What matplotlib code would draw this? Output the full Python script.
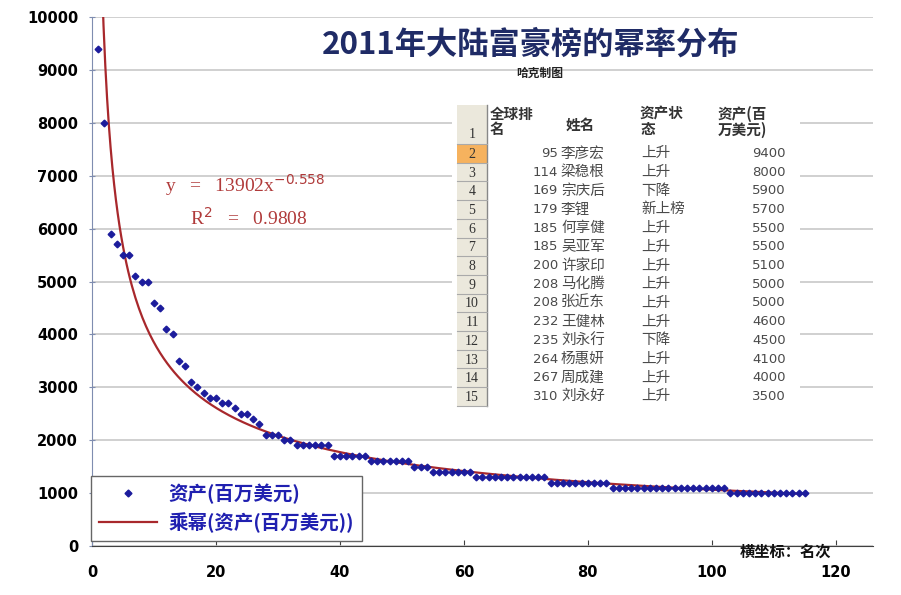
import numpy as np
import matplotlib.pyplot as plt
from matplotlib.patches import Rectangle
from matplotlib.lines import Line2D

plt.rcParams['font.family'] = ['Noto Sans CJK SC', 'DejaVu Sans']

# ==============================
# DATA
# ==============================
assets = [9400, 8000, 5900, 5700, 5500, 5500, 5100, 5000, 5000, 4600,
          4500, 4100, 4000, 3500, 3400, 3100, 3000, 2900, 2800, 2800,
          2700, 2700, 2600, 2500, 2500, 2400, 2300, 2100, 2100, 2100,
          2000, 2000, 1900, 1900, 1900, 1900, 1900, 1900, 1700, 1700,
          1700, 1700, 1700, 1700, 1600, 1600, 1600, 1600, 1600, 1600,
          1600, 1500, 1500, 1500, 1400, 1400, 1400, 1400, 1400, 1400,
          1400, 1300, 1300, 1300, 1300, 1300, 1300, 1300, 1300, 1300,
          1300, 1300, 1300, 1200, 1200, 1200, 1200, 1200, 1200, 1200,
          1200, 1200, 1200, 1100, 1100, 1100, 1100, 1100, 1100, 1100,
          1100, 1100, 1100, 1100, 1100, 1100, 1100, 1100, 1100, 1100,
          1100, 1100, 1000, 1000, 1000, 1000, 1000, 1000, 1000, 1000,
          1000, 1000, 1000, 1000, 1000]
rank = np.arange(1, len(assets) + 1)

# trendline from the printed equation
fit_a = 13902
fit_b = -0.558
fit_r2 = 0.9808

table_rank = [95, 114, 169, 179, 185, 185, 200, 208, 208, 232, 235, 264, 267, 310]
table_name = ['李彦宏', '梁稳根', '宗庆后', '李锂', '何享健', '吴亚军', '许家印',
              '马化腾', '张近东', '王健林', '刘永行', '杨惠妍', '周成建', '刘永好']
table_status = ['上升', '上升', '下降', '新上榜', '上升', '上升', '上升',
                '上升', '上升', '上升', '下降', '上升', '上升', '上升']
table_assets = [9400, 8000, 5900, 5700, 5500, 5500, 5100, 5000, 5000,
                4600, 4500, 4100, 4000, 3500]

# ==============================
# MAIN CHART
# ==============================
fig = plt.figure(figsize=(9.01, 5.95), dpi=100)
ax = fig.add_axes([92 / 901, 49 / 595, 781 / 901, 529 / 595])

xs = np.linspace(1, 115, 400)
ax.plot(xs, fit_a * xs ** fit_b, color='#a8282c', lw=1.6, zorder=3)
ax.plot(rank, assets, ls='none', marker='D', ms=3.4, color='#1c1c9c',
        mec='#1c1c9c', zorder=4)

ax.set_xlim(0, 126)
ax.set_ylim(0, 10000)
ax.set_xticks(range(0, 121, 20))
ax.set_yticks(range(0, 10001, 1000))
ax.yaxis.grid(True, color='#c4c4c4', lw=1.1)
ax.set_axisbelow(True)
for s in ['top', 'right']:
    ax.spines[s].set_visible(False)
ax.spines['left'].set_color('#7f8db0')
ax.spines['bottom'].set_color('#404040')
ax.tick_params(axis='y', direction='inout', length=4, color='#7f8db0', pad=8)
ax.tick_params(axis='x', direction='in', length=4, color='#404040', pad=14)
for lab in ax.get_xticklabels() + ax.get_yticklabels():
    lab.set_fontweight('bold')
    lab.set_fontsize(10.5)
    lab.set_fontfamily('DejaVu Sans')

# equation
ax.text(11.8, 6820, 'y   =   13902x$^{-0.558}$', color='#b03a3a', fontsize=14,
        family='Liberation Serif', va='center', ha='left')
ax.text(15.8, 6200, 'R$^2$   =   %.4f' % fit_r2, color='#b03a3a', fontsize=14,
        family='Liberation Serif', va='center', ha='left')

# title
fig.text(531 / 901, 1 - 45 / 595, '2011年大陆富豪榜的幂率分布', ha='center',
         va='center', fontsize=22.5, fontweight='bold', color='#1f2b66')
fig.text(540 / 901, 1 - 73 / 595, '哈克制图', ha='center', va='center',
         fontsize=8.5, fontweight='bold', color='#222222', style='italic')
fig.text(785 / 901, 1 - 552 / 595, '横坐标：名次', ha='center', va='center',
         fontsize=11, fontweight='bold', color='#111111')

# legend
handles = [Line2D([], [], ls='none', marker='D', ms=3.5, color='#1c1c9c'),
           Line2D([], [], color='#a8282c', lw=1.6)]
leg = fig.legend(handles, ['资产(百万美元)', '乘幂(资产(百万美元))'],
                 loc='lower left', bbox_to_anchor=(91 / 901, 1 - 541 / 595),
                 frameon=True, fancybox=False, framealpha=1,
                 edgecolor='#666666', handlelength=3.0, borderpad=0.4,
                 labelspacing=0.45, handletextpad=0.6,
                 prop={'weight': 'bold', 'size': 14}, borderaxespad=0)
leg.get_frame().set_linewidth(1.0)
for t in leg.get_texts():
    t.set_color('#2020b0')

# ==============================
# TABLE (Excel snippet)
# ==============================
tx = fig.add_axes([452 / 901, 1 - 411 / 595, 348 / 901, 311 / 595])
tx.set_xlim(452, 800)
tx.set_ylim(411, 100)
tx.axis('off')
tx.add_patch(Rectangle((452, 100), 348, 311, facecolor='white', edgecolor='none'))

row_h = 18.7
row_top = 144
tx.add_patch(Rectangle((457, 105), 30, row_top - 105 + 14 * row_h,
                       facecolor='#ebe8dc', edgecolor='none'))
tx.add_patch(Rectangle((457, row_top), 30, row_h, facecolor='#f6b25e',
                       edgecolor='none'))
tx.plot([487, 487], [105, row_top + 14 * row_h], color='#888888', lw=1)
tx.plot([457, 487], [row_top, row_top], color='#aaaaaa', lw=0.8)
tx.text(472, row_top - 3, '1', ha='center', va='bottom', fontsize=10,
        family='Liberation Serif', color='#333333')

tc = '#4a4a4a'
for i in range(len(table_rank)):
    yc = row_top + (i + 0.5) * row_h
    tx.plot([457, 487], [row_top + (i + 1) * row_h] * 2, color='#aaaaaa', lw=0.8)
    tx.text(472, yc + 1, str(i + 2), ha='center', va='center', fontsize=10,
            family='Liberation Serif', color='#333333')
    tx.text(558, yc, str(table_rank[i]), ha='right', va='center', fontsize=9.5,
            color=tc, family='DejaVu Sans')
    tx.text(561, yc, table_name[i], ha='left', va='center', fontsize=10.5, color=tc)
    tx.text(641, yc, table_status[i], ha='left', va='center', fontsize=10.5, color=tc)
    tx.text(786, yc, str(table_assets[i]), ha='right', va='center', fontsize=9.5,
            color=tc, family='DejaVu Sans')

hdr = dict(va='top', ha='left', fontsize=10.5, fontweight='bold', color='#333333',
           linespacing=0.95)
tx.text(490, 106, '全球排\n名', **hdr)
tx.text(566, 117, '姓名', **hdr)
tx.text(640, 106, '资产状\n态', **hdr)
tx.text(718, 106, '资产(百\n万美元)', **hdr)

fig.savefig('out.png', dpi=100)
